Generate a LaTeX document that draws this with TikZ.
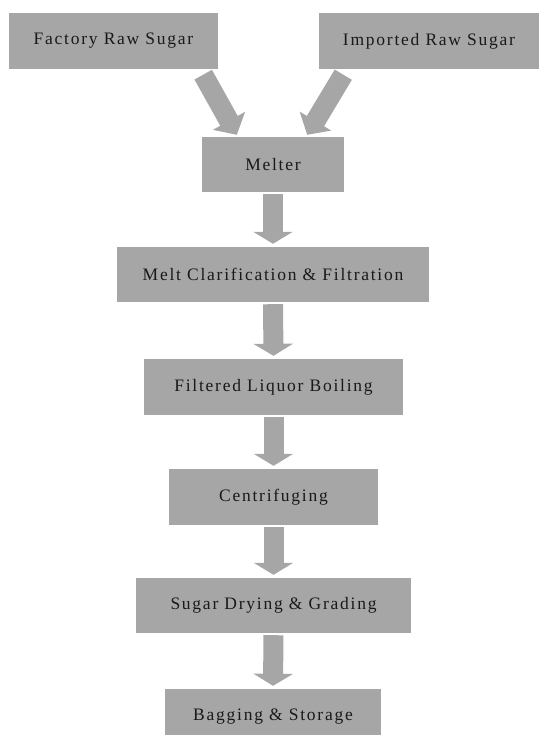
\documentclass[tikz,border=0pt]{standalone}
\usepackage{fontspec}
\setmainfont{Liberation Serif}[LetterSpace=10]
\usetikzlibrary{arrows.meta}
\definecolor{boxgray}{RGB}{166,166,166}
\definecolor{inkc}{RGB}{25,25,25}
\tikzset{
  stage/.style={fill=boxgray, inner sep=0pt, text=inkc, font=\fontsize{17.5}{20}\selectfont, anchor=center},
  downflow/.style={draw=boxgray, line width=20pt,
    -{Triangle[width=39pt, length=12pt]},
    shorten <=2pt, shorten >=3pt},
  slantflow/.style={draw=boxgray, line width=20pt,
    -{Triangle[width=36pt, length=16pt]}}
}
\begin{document}
\begin{tikzpicture}[x=1pt, y=-1pt]
  \useasboundingbox (0,0) rectangle (540,735);

  % raw sugar sources
  \node[stage, minimum width=209pt, minimum height=56pt] (fac) at (113.5,41) {Factory Raw Sugar};
  \node[stage, minimum width=220pt, minimum height=56pt] (imp) at (429,41) {Imported Raw Sugar};

  % refining stages
  \node[stage, minimum width=142pt, minimum height=55pt] (melt) at (273,164.5) {Melter};
  \node[stage, minimum width=312pt, minimum height=55pt] (clar) at (273,274.5) {Melt Clarification \& Filtration};
  \node[stage, minimum width=259pt, minimum height=56pt] (boil) at (273.5,387) {Filtered Liquor Boiling};
  \node[stage, minimum width=209pt, minimum height=56pt] (cent) at (273.5,497) {Centrifuging};
  \node[stage, minimum width=275pt, minimum height=55pt] (dry)  at (273.5,605.5) {Sugar Drying \& Grading};
  \node[stage, minimum width=216pt, minimum height=55pt] (bag)  at (273,716.5) {Bagging \& Storage};

  % feed arrows into the melter
  \coordinate (facout) at ([shift={(-15,5.5)}]fac.south east);
  \coordinate (melin1) at ([shift={(35,-2)}]melt.north west);
  \coordinate (impout) at ([shift={(24.5,5.5)}]imp.south west);
  \coordinate (melin2) at ([shift={(-37,-2)}]melt.north east);
  \draw[slantflow] (facout) -- (melin1);
  \draw[slantflow] (impout) -- (melin2);

  % process flow
  \draw[downflow] (melt.south) -- (clar.north);
  \draw[downflow] (clar.south) -- (boil.north);
  \draw[downflow] (boil.south) -- (cent.north);
  \draw[downflow] (cent.south) -- (dry.north);
  \draw[downflow] (dry.south) -- (bag.north);
\end{tikzpicture}
\end{document}
